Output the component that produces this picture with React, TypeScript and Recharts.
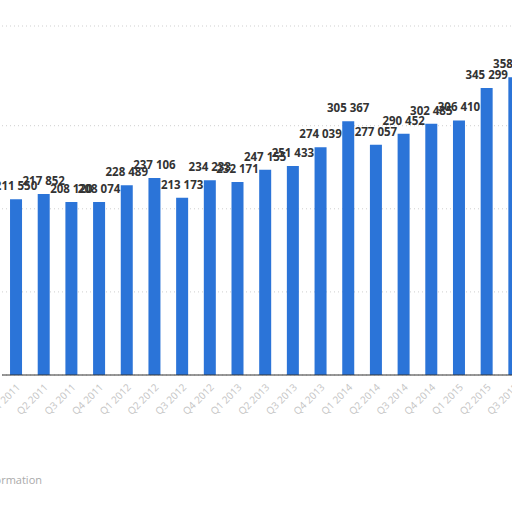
import { Bar, BarChart, CartesianGrid, LabelList, XAxis, YAxis } from "recharts";

const periods = [
  "Q1 2011", "Q2 2011", "Q3 2011", "Q4 2011",
  "Q1 2012", "Q2 2012", "Q3 2012", "Q4 2012",
  "Q1 2013", "Q2 2013", "Q3 2013", "Q4 2013",
  "Q1 2014", "Q2 2014", "Q3 2014", "Q4 2014",
  "Q1 2015", "Q2 2015", "Q3 2015",
];

const values = [
  211550, 217852, 208120, 208074, 228489, 237106, 213173, 234233, 232171, 247155,
  251433, 274039, 305367, 277057, 290452, 302485, 306410, 345299, 358210,
];

const yTicks = [0, 100000, 200000, 300000];

const data = periods.map((period, i) => ({ period, value: values[i] }));

const formatValue = (v: number) => v.toLocaleString("en-US").replace(/,/g, " ");

// plain <text> so the value never wraps to the bar width
function ValueLabel(props: any) {
  const { x, y, width, value } = props;
  return (
    <text
      x={x + width / 2}
      y={y - 9}
      textAnchor="middle"
      fontSize={11.5}
      fontWeight={700}
      fill="#333"
    >
      {formatValue(value)}
    </text>
  );
}

export default function App() {
  return (
    <div
      style={{
        position: "absolute",
        top: 0,
        left: 0,
        width: 512,
        height: 512,
        overflow: "hidden",
        background: "#fff",
        fontFamily: "'Open Sans', sans-serif",
      }}
    >
      <BarChart
        width={540}
        height={512}
        data={data}
        margin={{ top: 26, right: 12, left: 2, bottom: 77 }}
        barCategoryGap="29%"
      >
        <CartesianGrid vertical={false} stroke="#cfcfcf" strokeDasharray="1 3" />
        <YAxis hide domain={[0, 420000]} ticks={yTicks} />
        <XAxis
          dataKey="period"
          height={60}
          interval={0}
          axisLine={{ stroke: "#333" }}
          tickLine={false}
          angle={-45}
          textAnchor="end"
          tick={{ fontSize: 10, fill: "#c4c4c4" }}
        />
        <Bar dataKey="value" fill="#2b74d8" isAnimationActive={false}>
          <LabelList dataKey="value" content={ValueLabel} />
        </Bar>
      </BarChart>
      <div
        style={{
          position: "absolute",
          left: -90,
          top: 472,
          width: 132,
          textAlign: "right",
          fontSize: 11,
          color: "#aaa",
        }}
      >
        Additional Information
      </div>
    </div>
  );
}
